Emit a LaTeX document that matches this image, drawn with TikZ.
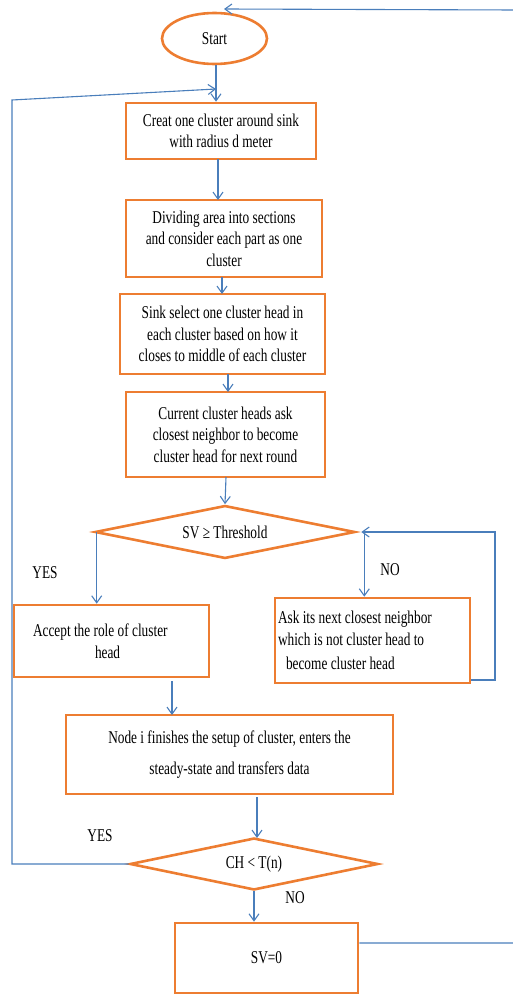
\documentclass[tikz,border=0pt]{standalone}
\usepackage{fontspec}
\setmainfont[FakeStretch=0.74]{Liberation Serif}
\usetikzlibrary{shapes.geometric,arrows.meta}
\definecolor{bord}{RGB}{237,125,49}
\definecolor{conn}{RGB}{74,126,187}
\tikzset{
  every node/.style={font=\fontsize{18}{21.5}\selectfont},
  procbox/.style={draw=bord,line width=2.6pt,fill=white,rectangle,inner sep=2pt,align=center},
  decis/.style={draw=bord,line width=2.6pt,fill=white,diamond,aspect=4.8,inner sep=0pt},
  termin/.style={draw=bord,line width=2.6pt,fill=white,ellipse,inner sep=0pt},
  arr/.style={draw=conn,line width=1.1pt,-{Straight Barb[length=7pt,width=10pt]}},
  lbl/.style={inner sep=0pt}
}
\begin{document}
\begin{tikzpicture}[x=1pt,y=-1pt]
\useasboundingbox (0,0) rectangle (512,998);
% nodes
\node[termin,minimum width=105pt,minimum height=51pt] (start) at (214.5,38.5) {Start};
\node[procbox,minimum width=190pt,minimum height=56pt] (b1) at (221,131) {Creat one cluster around sink\\with radius d meter};
\node[procbox,minimum width=196pt,minimum height=77pt] (b2) at (224,238.5) {Dividing area into sections\\and consider each part as one\\cluster};
\node[procbox,minimum width=205pt,minimum height=80pt] (b3) at (222.5,334) {Sink select one cluster head in\\each cluster based on how it\\closes to middle of each cluster};
\node[procbox,minimum width=199pt,minimum height=85pt] (b4) at (225.5,434.5) {Current cluster heads ask\\closest neighbor to become\\cluster head for next round};
\node[decis,minimum width=260pt,minimum height=53pt] (d1) at (225,532) {SV ≥ Threshold};
\node[procbox,minimum width=195pt,minimum height=72pt,text width=185pt,align=flush left] (acc) at (111.5,641) {\hspace*{14pt}Accept the role of cluster\\\hspace*{76pt}head};
\node[procbox,minimum width=195pt,minimum height=85pt,text width=189pt,align=flush left] (ask) at (372.5,640.5) {Ask its next closest neighbor\\which is not cluster head to\\[3pt]\hspace*{8pt}become cluster head};
\node[procbox,minimum width=327pt,minimum height=79pt] (ni) at (229.5,754.5) {Node i finishes the setup of cluster, enters the\\[10pt]steady-state and transfers data};
\node[decis,minimum width=248pt,minimum height=52pt] (d2) at (254,864) {CH < T(n)};
\node[procbox,minimum width=183pt,minimum height=70pt] (sv) at (266.5,958) {SV=0};
% labels
\node[lbl] (yes1) at (45,573) {YES};
\node[lbl] (no1) at (390,570) {NO};
\node[lbl] (yes2) at (100,836) {YES};
\node[lbl] (no2) at (295,898) {NO};
% coordinates
\coordinate (j1) at (216,89);
\coordinate (j2) at (224,9);
\coordinate (lc1) at (12,864);
\coordinate (lc2) at (12,100);
\coordinate (rc1) at (516,943);
\coordinate (rc2) at (516,10);
\coordinate (nc1) at (495,680);
\coordinate (nc2) at (495,532);
% connectors
\draw[arr] (start.south -| j1) -- (j1 |- b1.north);
\draw[arr] (218,159) -- (218,200);
\draw[arr] (222,277) -- (222,294);
\draw[arr] (228,374) -- (228,392);
\draw[arr] (226,477) -- (d1.north);
\draw[arr] ([xshift=3pt]d1.west) -- ([xshift=3pt]d1.west |- acc.north);
\draw[arr] ([xshift=8pt]d1.east) -- ([xshift=8pt]d1.east |- ask.north);
\draw[arr] (ask.east |- nc1) -- (nc1) -- (nc2) -- ([xshift=5pt]d1.east);
\draw[arr] (172,681) -- (172,715);
\draw[arr] (257,797) -- (257,838);
\draw[arr] (d2.south) -- (d2.south |- sv.north);
\draw[arr] (d2.west) -- (lc1) -- (lc2) -- (j1);
\draw[arr] ([yshift=15pt]sv.east) -- (rc1) -- (rc2) -- (j2);
\end{tikzpicture}
\end{document}
